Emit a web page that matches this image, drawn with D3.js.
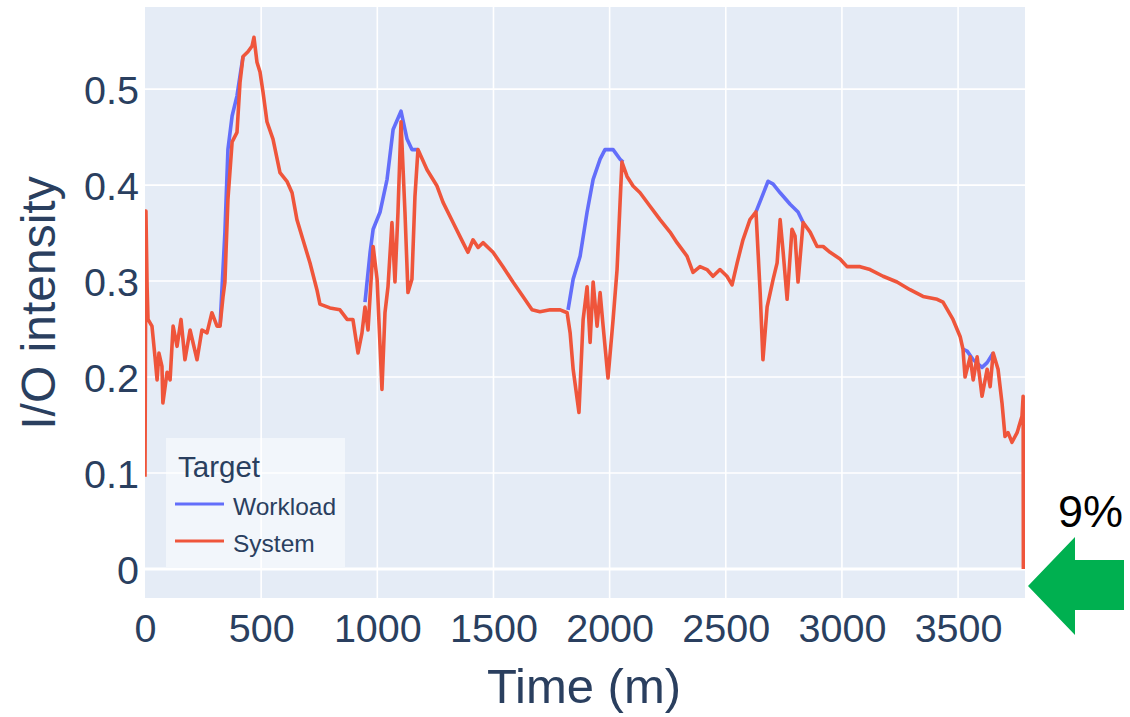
<!DOCTYPE html>
<html>
<head>
<meta charset="utf-8">
<script src="https://cdn.jsdelivr.net/npm/d3@7"></script>
<style>
  html, body { margin: 0; padding: 0; background: #fff; }
  svg { display: block; }
</style>
</head>
<body>
<script>
// values
const systemTime = [0, 4, 9, 13, 30, 43, 52, 60, 73, 77, 95, 108, 121, 138, 155, 172, 194, 224, 245, 267, 288, 310, 323, 336, 344, 357, 375, 396, 409, 422, 443, 461, 469, 482, 495, 508, 525, 551, 581, 611, 633, 654, 680, 710, 740, 753, 796, 839, 870, 895, 917, 934, 947, 960, 982, 999, 1020, 1033, 1046, 1063, 1076, 1089, 1102, 1119, 1132, 1149, 1162, 1175, 1214, 1257, 1283, 1326, 1369, 1390, 1412, 1434, 1455, 1498, 1541, 1584, 1627, 1666, 1700, 1744, 1787, 1817, 1830, 1843, 1868, 1886, 1903, 1916, 1929, 1946, 1959, 1972, 1993, 2015, 2032, 2045, 2053, 2075, 2101, 2131, 2174, 2217, 2260, 2290, 2333, 2359, 2389, 2419, 2445, 2475, 2505, 2527, 2549, 2574, 2604, 2630, 2648, 2660, 2678, 2704, 2721, 2734, 2747, 2764, 2785, 2798, 2811, 2833, 2863, 2893, 2919, 2949, 2992, 3022, 3078, 3121, 3177, 3237, 3293, 3349, 3410, 3435, 3478, 3509, 3521, 3530, 3552, 3565, 3582, 3603, 3625, 3638, 3651, 3672, 3689, 3702, 3715, 3732, 3754, 3775, 3780, 3781];
const systemValue = [0.096, 0.373, 0.294, 0.260, 0.253, 0.221, 0.197, 0.225, 0.211, 0.173, 0.205, 0.197, 0.253, 0.232, 0.260, 0.218, 0.249, 0.218, 0.249, 0.246, 0.267, 0.253, 0.253, 0.284, 0.299, 0.385, 0.445, 0.455, 0.507, 0.534, 0.539, 0.545, 0.554, 0.528, 0.518, 0.497, 0.466, 0.448, 0.413, 0.404, 0.392, 0.364, 0.343, 0.319, 0.291, 0.276, 0.272, 0.270, 0.260, 0.260, 0.225, 0.246, 0.273, 0.249, 0.336, 0.302, 0.187, 0.267, 0.294, 0.361, 0.299, 0.372, 0.466, 0.372, 0.288, 0.302, 0.388, 0.437, 0.416, 0.399, 0.382, 0.361, 0.340, 0.330, 0.343, 0.335, 0.340, 0.330, 0.315, 0.299, 0.284, 0.270, 0.268, 0.270, 0.270, 0.267, 0.246, 0.208, 0.163, 0.260, 0.294, 0.236, 0.299, 0.253, 0.288, 0.253, 0.199, 0.260, 0.312, 0.382, 0.424, 0.409, 0.399, 0.392, 0.378, 0.364, 0.351, 0.340, 0.326, 0.309, 0.315, 0.312, 0.305, 0.312, 0.305, 0.296, 0.319, 0.343, 0.364, 0.372, 0.288, 0.218, 0.273, 0.302, 0.319, 0.364, 0.330, 0.281, 0.354, 0.347, 0.299, 0.361, 0.351, 0.336, 0.336, 0.330, 0.323, 0.315, 0.315, 0.312, 0.305, 0.299, 0.291, 0.284, 0.281, 0.278, 0.260, 0.242, 0.229, 0.200, 0.221, 0.197, 0.221, 0.180, 0.208, 0.190, 0.225, 0.208, 0.173, 0.138, 0.142, 0.132, 0.142, 0.159, 0.180, 0.000];

// workload only where it shows above the system line (null = hidden under it)
const workloadTime = [323, 344, 357, 375, 396, 409, 422, null, 947, 969, 982, 1012, 1042, 1068, 1102, 1128, 1149, 1175, null, 1821, 1843, 1873, 1903, 1929, 1959, 1980, 2015, 2045, 2058, null, 2630, 2656, 2682, 2704, 2734, 2777, 2811, 2833, null, 3521, 3539, 3565, 3603, 3625, 3651];
const workloadValue = [0.253, 0.351, 0.437, 0.472, 0.493, 0.514, 0.534, null, 0.278, 0.330, 0.354, 0.372, 0.406, 0.458, 0.477, 0.448, 0.437, 0.437, null, 0.270, 0.302, 0.326, 0.372, 0.406, 0.427, 0.437, 0.437, 0.427, 0.424, null, 0.372, 0.388, 0.404, 0.401, 0.392, 0.380, 0.372, 0.361, null, 0.229, 0.227, 0.218, 0.210, 0.215, 0.225];

const xTicks = [0, 500, 1000, 1500, 2000, 2500, 3000, 3500];
const yTicks = [0, 0.1, 0.2, 0.3, 0.4, 0.5];
const seriesNames = ["Workload", "System"];
const seriesColors = ["#636efa", "#ef553b"];

const W = 1130, H = 717;
const pl = 145, pr = 1025, pt = 7, pb = 598;
const font = "'Liberation Sans', Arial, sans-serif";
const ink = "#2a3f5f";

const svg = d3.select("body").append("svg")
  .attr("width", W)
  .attr("height", H);

const x = d3.scaleLinear().domain([0, 3788]).range([pl, pr]);
const y = d3.scaleLinear().domain([-0.0303, 0.5856]).range([pb, pt]);

svg.append("rect")
  .attr("x", pl).attr("y", pt)
  .attr("width", pr - pl).attr("height", pb - pt)
  .attr("fill", "#e5ecf6");

// grid
svg.append("g")
  .attr("stroke", "#fff")
  .attr("stroke-width", 1.6)
  .selectAll("line")
  .data(xTicks.slice(1))
  .join("line")
    .attr("x1", d => x(d)).attr("x2", d => x(d))
    .attr("y1", pt).attr("y2", pb);

svg.append("g")
  .attr("stroke", "#fff")
  .selectAll("line")
  .data(yTicks)
  .join("line")
    .attr("stroke-width", d => d === 0 ? 3 : 1.6)
    .attr("x1", pl).attr("x2", pr)
    .attr("y1", d => y(d)).attr("y2", d => y(d));

// axes (labels only, like plotly)
const xAxis = svg.append("g")
  .attr("transform", `translate(0,${pb})`)
  .call(d3.axisBottom(x).tickValues(xTicks).tickSize(0).tickPadding(44).tickFormat(d3.format("d")));
const yAxis = svg.append("g")
  .attr("transform", `translate(${pl},0)`)
  .call(d3.axisLeft(y).tickValues(yTicks).tickSize(0).tickPadding(6).tickFormat(d => d === 0 ? "0" : d3.format(".1f")(d)));

[xAxis, yAxis].forEach(a => {
  a.select(".domain").remove();
  a.selectAll("text")
    .attr("fill", ink)
    .style("font-family", font)
    .style("font-size", "39.5px");
});
xAxis.selectAll("text").attr("dy", 0);
yAxis.selectAll("text").attr("dy", "0.36em");

svg.append("text")
  .attr("x", (pl + pr) / 2 - 1).attr("y", 703)
  .attr("text-anchor", "middle")
  .attr("fill", ink)
  .style("font-family", font).style("font-size", "49px")
  .text("Time (m)");

svg.append("text")
  .attr("transform", "translate(55,303) rotate(-90)")
  .attr("text-anchor", "middle")
  .attr("fill", ink)
  .style("font-family", font).style("font-size", "48px")
  .text("I/O intensity");

// lines
svg.append("clipPath").attr("id", "plot")
  .append("rect")
  .attr("x", pl).attr("y", pt)
  .attr("width", pr - pl).attr("height", pb - pt);

const workload = workloadTime.map((t, i) => ({ t, v: workloadValue[i] }));
const system = systemTime.map((t, i) => ({ t, v: systemValue[i] }));

const line = d3.line()
  .defined(d => d.v != null)
  .x(d => x(d.t))
  .y(d => y(d.v));

const lines = svg.append("g").attr("clip-path", "url(#plot)")
  .attr("fill", "none")
  .attr("stroke-width", 3.6)
  .attr("stroke-linejoin", "round");

lines.append("path").datum(workload)
  .attr("stroke", seriesColors[0])
  .attr("d", line);
lines.append("path").datum(system)
  .attr("stroke", seriesColors[1])
  .attr("d", line);

// legend
const legend = svg.append("g");
legend.append("rect")
  .attr("x", 166).attr("y", 438)
  .attr("width", 179).attr("height", 129)
  .attr("fill", "rgba(255,255,255,0.5)");
legend.append("text")
  .attr("x", 178).attr("y", 477)
  .attr("fill", ink)
  .style("font-family", font).style("font-size", "29.5px")
  .text("Target");
const item = legend.selectAll("g.item")
  .data(seriesNames)
  .join("g")
    .attr("class", "item")
    .attr("transform", (d, i) => `translate(0,${504 + i * 37})`);
item.append("line")
  .attr("x1", 175).attr("x2", 224)
  .attr("stroke", (d, i) => seriesColors[i])
  .attr("stroke-width", 3.2);
item.append("text")
  .attr("x", 233).attr("y", 11)
  .attr("fill", ink)
  .style("font-family", font).style("font-size", "24.5px")
  .text(d => d);

// annotation
svg.append("text")
  .attr("x", 1058).attr("y", 527)
  .attr("fill", "#000")
  .style("font-family", font).style("font-size", "45px")
  .text("9%");

svg.append("path")
  .attr("fill", "#00b050")
  .attr("d", d3.line()([[1028, 586], [1075, 537], [1075, 560], [1124, 560], [1124, 610], [1075, 610], [1075, 635]]) + "Z");
</script>
</body>
</html>
